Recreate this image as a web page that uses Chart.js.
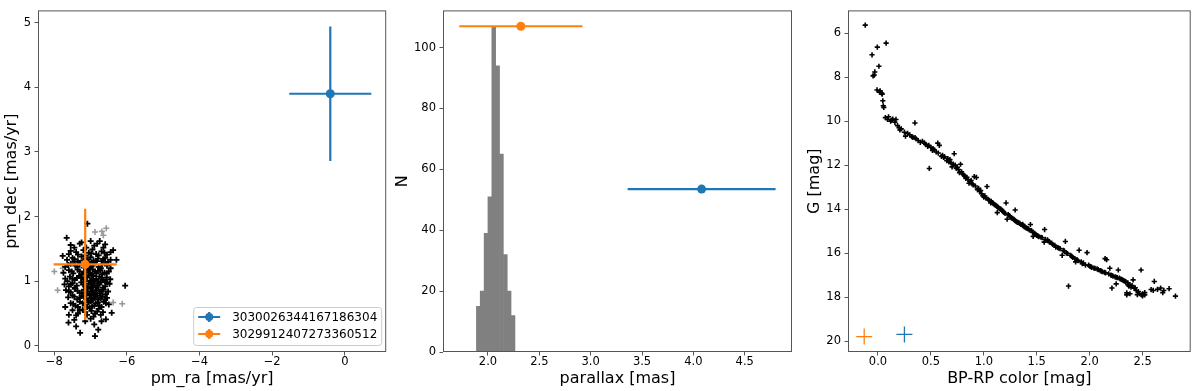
<!DOCTYPE html>
<html>
<head>
<meta charset="utf-8">
<script src="https://cdn.jsdelivr.net/npm/chart.js@4.4.1/dist/chart.umd.min.js"></script>
<style>
  body { margin: 0; background: #fff; }
  #wrap { position: relative; width: 1200px; height: 391px; }
  canvas { position: absolute; top: 0; }
</style>
</head>
<body>
<div id="wrap">
  <canvas id="pmChart" width="392" height="391" style="left:0px"></canvas>
  <canvas id="plxChart" width="405" height="391" style="left:390px"></canvas>
  <canvas id="cmdChart" width="405" height="391" style="left:795px"></canvas>
</div>
<script>
// Two sources of interest
const sourceIds = ['3030026344167186304', '3029912407273360512'];
const sourceColors = ['#1f77b4', '#ff7f0e'];

// Proper motions (value and error) of the two sources
const srcPmRa = [-0.40, -7.15];
const srcPmRaErr = [1.13, 0.87];
const srcPmDec = [3.90, 1.26];
const srcPmDecErr = [1.04, 0.86];

// Parallax of the two sources and the height they are drawn at
const srcPlx = [4.08, 2.32];
const srcPlxErr = [0.72, 0.60];
const srcPlxLevel = [53.5, 107];

// Colour-magnitude position of the two sources
const srcBpRp = [0.25, -0.13];
const srcG = [19.7, 19.8];

// Histogram of the cluster parallaxes
const binCenters = [1.906, 1.943, 1.981, 2.018, 2.056, 2.094, 2.131, 2.169, 2.206, 2.244];
const binCounts = [15, 20, 39, 51, 107, 94, 65, 32, 20, 12];

// Cluster members, proper motions [pm_ra, pm_dec]
const clusterPm = [
  [-7.09,1.89],[-7.66,1.67],[-7.30,1.58],[-7.00,1.62],[-6.75,1.62],[-6.90,1.55],[-7.45,1.52],[-6.60,1.57],
  [-7.77,1.39],[-7.55,1.47],[-7.40,1.45],[-7.20,1.48],[-7.05,1.44],[-6.95,1.49],[-6.85,1.42],[-6.70,1.46],[-6.55,1.41],[-6.38,1.48],[-7.60,1.42],
  [-7.65,1.33],[-7.50,1.36],[-7.35,1.31],[-7.25,1.38],[-7.10,1.34],[-7.00,1.37],[-6.92,1.32],[-6.80,1.35],[-6.70,1.31],[-6.60,1.36],[-6.45,1.33],[-6.29,1.33],[-7.45,1.30],
  [-7.70,1.22],[-7.55,1.27],[-7.42,1.24],[-7.30,1.28],[-7.18,1.21],[-7.08,1.27],[-6.98,1.23],[-6.88,1.29],[-6.78,1.22],[-6.68,1.26],[-6.55,1.24],[-6.45,1.20],[-7.02,1.20],[-6.92,1.26],
  [-7.75,1.13],[-7.60,1.17],[-7.48,1.12],[-7.36,1.18],[-7.24,1.11],[-7.12,1.16],[-7.02,1.13],[-6.94,1.18],[-6.84,1.12],[-6.74,1.17],[-6.62,1.13],[-6.50,1.15],[-6.98,1.10],[-6.88,1.15],[-7.30,1.15],
  [-7.70,1.04],[-7.57,1.07],[-7.44,1.02],[-7.32,1.08],[-7.20,1.03],[-7.10,1.06],[-7.00,1.01],[-6.93,1.08],[-6.85,1.03],[-6.76,1.07],[-6.66,1.02],[-6.56,1.06],[-6.46,1.03],[-7.05,1.09],[-6.90,1.00],[-7.38,1.05],
  [-7.72,0.95],[-7.60,0.92],[-7.50,0.97],[-7.38,0.93],[-7.26,0.98],[-7.15,0.92],[-7.05,0.96],[-6.97,0.91],[-6.90,0.97],[-6.82,0.93],[-6.72,0.98],[-6.60,0.92],[-6.48,0.96],[-6.05,0.93],[-7.00,0.99],[-6.86,0.90],
  [-7.68,0.86],[-7.55,0.83],[-7.43,0.88],[-7.30,0.82],[-7.18,0.87],[-7.08,0.84],[-6.99,0.88],[-6.91,0.82],[-6.83,0.86],[-6.74,0.81],[-6.64,0.87],[-6.52,0.84],[-6.95,0.85],[-7.02,0.80],
  [-7.62,0.75],[-7.50,0.78],[-7.37,0.72],[-7.25,0.77],[-7.12,0.73],[-7.03,0.78],[-6.95,0.71],[-6.87,0.76],[-6.78,0.72],[-6.68,0.77],[-6.55,0.74],[-6.98,0.74],[-6.90,0.79],
  [-7.70,0.60],[-7.55,0.66],[-7.42,0.62],[-7.30,0.68],[-7.16,0.63],[-7.05,0.67],[-6.96,0.61],[-6.86,0.66],[-6.76,0.62],[-6.64,0.68],[-6.50,0.64],[-7.00,0.69],
  [-7.50,0.55],[-7.35,0.50],[-7.22,0.56],[-7.10,0.48],[-6.98,0.54],[-6.88,0.50],[-6.78,0.57],[-6.66,0.52],[-6.42,0.51],[-7.60,0.48],
  [-7.61,0.36],[-7.45,0.40],[-7.29,0.20],[-7.15,0.38],[-7.00,0.42],[-6.90,0.33],[-6.88,0.15],[-6.79,0.25],[-6.58,0.41],[-7.40,0.30],[-6.70,0.38],
  [-7.35,1.41],[-7.15,1.40],[-6.98,1.43],[-6.78,1.40],[-6.62,1.44],
  [-7.45,1.34],[-7.20,1.32],[-7.05,1.30],[-6.85,1.31],[-6.65,1.34],[-6.52,1.30],
  [-7.62,1.25],[-7.36,1.22],[-7.12,1.25],[-6.95,1.28],[-6.72,1.20],[-6.60,1.28],
  [-7.52,1.15],[-7.18,1.13],[-7.06,1.18],[-6.80,1.16],[-6.68,1.11],[-6.56,1.12],
  [-7.64,1.00],[-7.50,1.04],[-7.26,1.05],[-7.14,1.00],[-6.96,1.04],[-6.80,1.00],[-6.70,1.05],[-6.60,1.00],
  [-7.55,0.95],[-7.44,0.90],[-7.20,0.95],[-7.10,0.90],[-6.94,0.94],[-6.76,0.95],[-6.66,0.90],[-6.55,0.98],
  [-7.60,0.84],[-7.36,0.85],[-7.24,0.82],[-7.12,0.80],[-6.88,0.82],[-6.78,0.87],[-6.70,0.84],[-6.58,0.80],
  [-7.45,0.76],[-7.30,0.74],[-7.18,0.76],[-7.08,0.70],[-6.92,0.73],[-6.82,0.78],[-6.72,0.74],[-6.60,0.71],
  [-7.48,0.65],[-7.35,0.60],[-7.22,0.66],[-7.10,0.60],[-6.90,0.62],[-6.80,0.67],[-6.70,0.60],[-6.58,0.66],
  [-7.30,0.55],[-7.15,0.52],[-7.02,0.58],[-6.92,0.45],[-6.82,0.53],[-6.72,0.48],[-7.40,0.47],
  [-7.25,1.60],[-6.82,1.58],[-7.55,1.56],[-7.12,1.52],[-6.65,1.52],[-6.45,1.45]
];

// Rejected stars, drawn in gray
const fieldPm = [
  [-8.00,1.15],[-7.91,0.86],[-7.77,1.20],[-6.88,1.76],[-6.69,1.77],[-6.57,1.82],[-6.65,1.71],[-6.38,0.67],[-6.13,0.65]
];

// Cluster members, colour-magnitude [BP-RP, G]
const clusterCmd = [
  [-0.12,5.63],[-0.056,6.98],[-0.006,6.63],[0.077,6.45],[0.009,7.50],[-0.03,7.76],[-0.046,7.94],[-0.035,7.90],
  [-0.009,8.58],[0.015,8.68],[0.04,8.77],[0.02,8.62],[0.035,8.72],[0.046,9.07],[0.055,9.37],[0.05,9.30],[0.07,9.84],[0.09,9.92],
  [0.12,10.00],[0.10,9.80],[0.14,9.90],[0.17,9.92],[0.185,10.20],[0.20,10.30],[0.207,10.40],[0.16,10.05],[0.13,9.95],[0.349,10.08],
  [0.26,10.68],[0.33,10.74],[0.36,10.80],[0.40,10.96],[0.38,10.88],[0.42,10.92],[0.45,11.05],[0.48,11.10],[0.50,11.20],[0.515,11.33],
  [0.53,11.30],[0.485,12.15],[0.565,11.00],[0.58,11.10],[0.61,11.55],[0.60,11.60],[0.63,11.62],[0.66,11.70],[0.68,11.75],[0.72,11.48],
  [0.70,12.08],[0.71,11.95],[0.73,12.00],[0.75,12.10],[0.78,11.96],[0.77,12.34],[0.80,12.40],[0.82,12.50],[0.84,12.55],[0.86,12.82],
  [0.88,12.70],[0.91,12.52],[0.93,12.56],[0.90,12.90],[0.94,13.12],[0.96,13.20],[0.98,13.30],[0.99,13.39],[1.00,13.45],[1.02,13.50],
  [1.03,12.97],[1.04,13.55],[1.065,13.72],[1.08,13.70],[1.10,13.80],[1.12,13.85],[1.127,14.16],[1.14,13.95],[1.16,14.00],[1.18,14.10],
  [1.20,14.20],[1.21,13.72],[1.22,14.46],[1.24,14.30],[1.26,14.40],[1.28,14.45],[1.296,14.04],[1.30,14.55],[1.32,14.60],[1.34,14.65],
  [1.367,14.69],[1.38,14.80],[1.40,14.85],[1.42,14.90],[1.45,14.98],[1.44,14.70],[1.466,15.24],[1.48,15.10],[1.50,15.20],[1.52,15.25],
  [1.55,15.30],[1.574,14.93],[1.57,15.50],[1.60,15.40],[1.62,15.50],[1.65,15.60],[1.68,15.73],[1.70,15.75],[1.72,15.80],[1.74,16.10],
  [1.77,15.47],[1.76,15.90],[1.78,16.00],[1.80,17.50],[1.82,16.10],[1.84,16.20],[1.867,16.40],[1.88,16.30],[1.90,15.87],[1.92,16.40],
  [1.94,16.45],[1.975,15.98],[1.99,16.55],[2.00,16.60],[2.02,16.65],[2.05,16.70],[2.08,16.75],[2.10,16.80],[2.12,16.85],[2.145,16.25],
  [2.16,16.30],[2.15,16.90],[2.19,16.69],[2.20,17.00],[2.22,17.05],[2.25,17.10],[2.27,16.77],[2.28,17.14],[2.30,17.20],[2.32,17.25],
  [2.34,17.30],[2.35,17.81],[2.36,17.44],[2.37,17.50],[2.38,17.45],[2.39,17.55],[2.41,17.22],[2.42,17.60],[2.44,17.70],[2.45,17.89],
  [2.47,17.85],[2.485,16.77],[2.49,17.90],[2.50,17.85],[2.52,17.80],[2.58,17.66],[2.60,17.70],[2.61,17.29],[2.64,17.65],[2.67,17.59],
  [2.69,17.80],[2.70,17.70],[2.75,17.62],[2.81,17.96],[2.21,17.59],[2.25,17.40],
  [0.22,10.35],[0.25,10.50],[0.28,10.55],[0.30,10.62],[0.32,10.70],[0.35,10.75],[0.44,11.00],[0.47,11.15],[0.52,11.25],[0.55,11.40],
  [0.57,11.45],[0.62,11.65],[0.65,11.80],[0.67,11.85],[0.69,11.90],[0.74,12.15],[0.76,12.20],[0.79,12.30],[0.81,12.45],[0.83,12.60],
  [0.85,12.65],[0.87,12.75],[0.89,12.85],[0.92,12.95],[0.95,13.05],[0.97,13.15],[1.01,13.40],[1.05,13.60],[1.07,13.65],[1.09,13.75],
  [1.11,13.82],[1.13,13.90],[1.15,13.98],[1.17,14.05],[1.19,14.15],[1.23,14.25],[1.25,14.35],[1.27,14.42],[1.29,14.50],[1.31,14.58],
  [1.33,14.62],[1.35,14.70],[1.37,14.75],[1.39,14.82],[1.41,14.88],[1.43,14.95],[1.46,15.05],[1.49,15.15],[1.51,15.22],[1.54,15.28],
  [1.58,15.38],[1.61,15.45],[1.64,15.55],[1.67,15.65],[1.71,15.78],[1.75,15.88],[1.79,16.02],[1.83,16.15],[1.86,16.25],[1.89,16.35],
  [1.93,16.48],[1.96,16.55],[2.01,16.62],[2.04,16.68],[2.07,16.72],[2.11,16.82],[2.14,16.88],[2.18,16.95],[2.21,17.02],[2.24,17.08],
  [2.26,17.12],[2.29,17.18],[2.31,17.22],[2.33,17.28],[2.36,17.35],[2.40,17.48],[2.43,17.58],[2.46,17.75],[2.38,17.85],[2.35,17.90],
  [2.50,17.95],[2.52,17.90]
];

Chart.defaults.font.family = "'DejaVu Sans', sans-serif";
Chart.defaults.color = '#000';
Chart.defaults.animation = false;

const spineColor = '#555';
const toXY = arr => arr.map(p => ({ x: p[0], y: p[1] }));
const minusFmt = v => (v < 0 ? '\u2212' + Math.abs(v) : String(v));

// Draws the frame round the plot area
const framePlugin = {
  id: 'frame',
  afterDraw(chart) {
    const { ctx, chartArea: a } = chart;
    ctx.save();
    ctx.strokeStyle = spineColor;
    ctx.lineWidth = 1;
    ctx.strokeRect(a.left + 0.5, a.top + 0.5, a.right - a.left - 1, a.bottom - a.top - 1);
    ctx.restore();
  }
};

// Draws x / y error bars from the options
const errorBarPlugin = {
  id: 'errorBars',
  afterDatasetsDraw(chart, args, opts) {
    if (!opts.bars) return;
    const { ctx } = chart;
    const xs = chart.scales.x, ys = chart.scales.y;
    ctx.save();
    ctx.lineWidth = 2.2;
    opts.bars.forEach(b => {
      ctx.strokeStyle = b.color;
      ctx.beginPath();
      if (b.xerr) {
        ctx.moveTo(xs.getPixelForValue(b.x - b.xerr), ys.getPixelForValue(b.y));
        ctx.lineTo(xs.getPixelForValue(b.x + b.xerr), ys.getPixelForValue(b.y));
      }
      if (b.yerr) {
        ctx.moveTo(xs.getPixelForValue(b.x), ys.getPixelForValue(b.y - b.yerr));
        ctx.lineTo(xs.getPixelForValue(b.x), ys.getPixelForValue(b.y + b.yerr));
      }
      ctx.stroke();
      ctx.fillStyle = b.color;
      ctx.beginPath();
      ctx.arc(xs.getPixelForValue(b.x), ys.getPixelForValue(b.y), 4.5, 0, Math.PI * 2);
      ctx.fill();
    });
    ctx.restore();
  }
};

// Legend box in the lower right corner of the first panel
const pmLegendPlugin = {
  id: 'pmLegend',
  afterDraw(chart) {
    const { ctx, chartArea: a } = chart;
    const w = 188, h = 38;
    const x0 = a.right - 5 - w, y0 = a.bottom - 7 - h;
    ctx.save();
    ctx.fillStyle = 'rgba(255,255,255,0.8)';
    ctx.strokeStyle = '#cccccc';
    ctx.lineWidth = 1;
    ctx.beginPath();
    ctx.roundRect(x0 + 0.5, y0 + 0.5, w, h, 3);
    ctx.fill();
    ctx.stroke();
    ctx.font = "12px 'DejaVu Sans'";
    ctx.textBaseline = 'middle';
    sourceIds.forEach((id, i) => {
      const cy = y0 + 10 + i * 17;
      const cx = x0 + 16;
      ctx.strokeStyle = sourceColors[i];
      ctx.fillStyle = sourceColors[i];
      ctx.lineWidth = 2.2;
      ctx.beginPath();
      ctx.moveTo(cx - 11, cy); ctx.lineTo(cx + 11, cy);
      ctx.moveTo(cx, cy - 5); ctx.lineTo(cx, cy + 5);
      ctx.stroke();
      ctx.beginPath();
      ctx.arc(cx, cy, 4, 0, Math.PI * 2);
      ctx.fill();
      ctx.fillStyle = '#000';
      ctx.fillText(id, x0 + 39, cy + 0.5);
    });
    ctx.restore();
  }
};

function axisX(min, max, step, fmt, title, height) {
  return {
    type: 'linear', position: 'bottom', min, max, offset: false,
    afterFit: s => { s.height = height; },
    border: { display: false },
    grid: { display: true, drawOnChartArea: false, drawTicks: true, tickLength: 3.5, color: spineColor, offset: false },
    ticks: { stepSize: step, includeBounds: false, autoSkip: false, maxRotation: 0, padding: 0,
             font: { size: 11.5 }, callback: fmt },
    title: { display: true, text: title, font: { size: 16 }, padding: { top: 0, bottom: 3 } }
  };
}

function axisY(min, max, step, fmt, title, width, titlePad, reverse) {
  return {
    type: 'linear', position: 'left', min, max, reverse: !!reverse,
    afterFit: s => { s.width = width; },
    border: { display: false },
    grid: { display: true, drawOnChartArea: false, drawTicks: true, tickLength: 3.5, color: spineColor },
    ticks: { stepSize: step, includeBounds: false, autoSkip: false, padding: 3.5,
             font: { size: 11.5 }, callback: fmt },
    title: { display: true, text: title, font: { size: 16 }, padding: { top: titlePad, bottom: 0 } }
  };
}

const baseOpts = {
  responsive: false,
  devicePixelRatio: 1,
  plugins: { legend: { display: false }, tooltip: { enabled: false } }
};

// Panel 1: proper motions
new Chart(document.getElementById('pmChart'), {
  type: 'scatter',
  data: {
    datasets: [
      { data: toXY(clusterPm), pointStyle: 'cross', radius: 3, borderWidth: 1.8,
        borderColor: '#000', backgroundColor: '#000' },
      { data: toXY(fieldPm), pointStyle: 'cross', radius: 3, borderWidth: 1.6,
        borderColor: 'rgba(128,128,128,0.8)', backgroundColor: 'rgba(128,128,128,0.8)' }
    ]
  },
  options: {
    ...baseOpts,
    layout: { padding: { top: 4, right: 5, left: 0, bottom: 0 } },
    scales: {
      x: axisX(-8.45, 1.14, 2, minusFmt, 'pm_ra [mas/yr]', 39),
      y: axisY(-0.096, 5.19, 1, minusFmt, 'pm_dec [mas/yr]', 38, 2)
    },
    plugins: {
      ...baseOpts.plugins,
      errorBars: { bars: sourceIds.map((id, i) => ({
        x: srcPmRa[i], y: srcPmDec[i], xerr: srcPmRaErr[i], yerr: srcPmDecErr[i], color: sourceColors[i]
      })) }
    }
  },
  plugins: [framePlugin, errorBarPlugin, pmLegendPlugin]
});

// Panel 2: parallax histogram
new Chart(document.getElementById('plxChart'), {
  type: 'bar',
  data: {
    datasets: [
      { data: binCenters.map((c, i) => ({ x: c, y: binCounts[i] })),
        backgroundColor: '#808080', borderWidth: 0, barPercentage: 1, categoryPercentage: 1 }
    ]
  },
  options: {
    ...baseOpts,
    layout: { padding: { top: 4, right: 3, left: 0, bottom: 0 } },
    scales: {
      x: axisX(1.562, 4.96, 0.5, v => v.toFixed(1), 'parallax [mas]', 39),
      y: axisY(0, 112.2, 20, v => String(v), 'N', 53, 3.4)
    },
    plugins: {
      ...baseOpts.plugins,
      errorBars: { bars: sourceIds.map((id, i) => ({
        x: srcPlx[i], y: srcPlxLevel[i], xerr: srcPlxErr[i], color: sourceColors[i]
      })) }
    }
  },
  plugins: [framePlugin, errorBarPlugin]
});

// Panel 3: colour-magnitude diagram
new Chart(document.getElementById('cmdChart'), {
  type: 'scatter',
  data: {
    datasets: [
      { data: [{ x: srcBpRp[0], y: srcG[0] }], pointStyle: 'cross', radius: 8, borderWidth: 1.3,
        borderColor: sourceColors[0] },
      { data: [{ x: srcBpRp[1], y: srcG[1] }], pointStyle: 'cross', radius: 8, borderWidth: 1.3,
        borderColor: sourceColors[1] },
      { data: toXY(clusterCmd), pointStyle: 'cross', radius: 2.6, borderWidth: 1.6,
        borderColor: '#000', backgroundColor: '#000' }
    ]
  },
  options: {
    ...baseOpts,
    layout: { padding: { top: 4, right: 3, left: 0, bottom: 0 } },
    scales: {
      x: axisX(-0.283, 2.954, 0.5, v => v.toFixed(1), 'BP-RP color [mag]', 39),
      y: axisY(4.96, 20.5, 2, v => String(v), 'G [mag]', 53, 10.4, true)
    }
  },
  plugins: [framePlugin]
});
</script>
</body>
</html>
